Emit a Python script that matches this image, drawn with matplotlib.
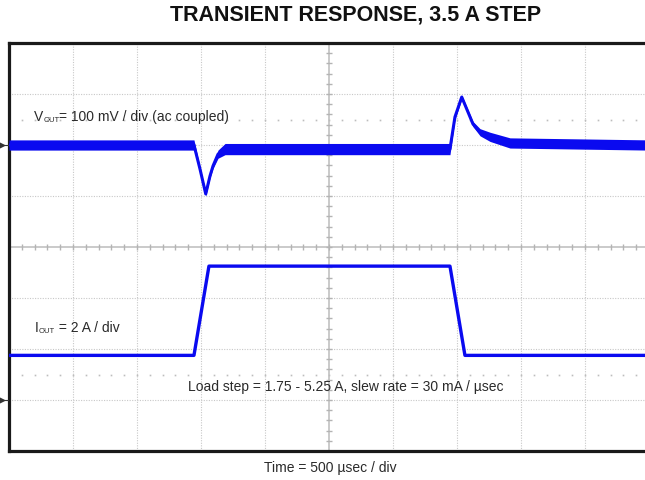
import numpy as np
import matplotlib
matplotlib.use("Agg")
import matplotlib.pyplot as plt

plt.rcParams['font.family'] = ['Liberation Sans', 'DejaVu Sans']

# scope settings
time_per_div = 500      # usec / div
vout_per_div = 100      # mV / div
iout_per_div = 2        # A / div
vout_offset = 2.0       # channel 1 ground position (div)
iout_offset = -3.0      # channel 2 ground position (div)

# channel 1: output voltage (ac coupled), mV, with noise band half-width
vout_t = [0, 1445, 1492, 1537, 1570, 1594, 1633, 1688, 3445, 3484, 3537, 3625, 3680, 3758, 3914, 5000]
vout_mv = [0, 0, -47, -96, -61, -41, -18, -8, -8, 55, 94, 41, 25, 16, 4, 0]
vout_noise = [10, 10, 4, 4, 4, 5, 8, 11, 11, 5, 4, 5, 7, 9, 10, 10]

# channel 2: load current, A
iout_t = [0, 1445, 1562, 3445, 3562, 5000]
iout_a = [1.75, 1.75, 5.25, 5.25, 1.75, 1.75]

title = "TRANSIENT RESPONSE, 3.5 A STEP"
load_text = "Load step = 1.75 - 5.25 A, slew rate = 30 mA / \u00b5sec"
time_text = "Time = 500 \u00b5sec / div"

blue = '#0a0af0'
grey = '#c8c8c8'
txt = '#2a2a2a'

fig = plt.figure(figsize=(6.45, 4.8), dpi=100)
ax = fig.add_axes([9 / 645, 29 / 480, 640 / 645, 408 / 480])
ax.set_xlim(0, 10 * time_per_div)
ax.set_ylim(-4, 4)
ax.set_xticks([])
ax.set_yticks([])
for s in ax.spines.values():
    s.set_linewidth(2.3)
    s.set_color('#1a1a1a')

# graticule
for k in range(1, 10):
    if k != 5:
        ax.axvline(k * time_per_div, color=grey, lw=0.8, ls=(0, (1, 1.3)), zorder=0)
for k in range(-3, 4):
    if k != 0:
        ax.axhline(k, color=grey, lw=0.8, ls=(0, (1, 1.3)), zorder=0)
ax.axvline(5 * time_per_div, color='#bcbcbc', lw=1.1, zorder=0)
ax.axhline(0, color='#bcbcbc', lw=1.1, zorder=0)

minor_x = np.arange(0, 10 * time_per_div + 1, time_per_div / 5)
minor_y = np.arange(-4, 4.01, 0.2)
ax.vlines(minor_x, -0.05, 0.05, color='#b4b4b4', lw=1.0, zorder=0)
ax.hlines(minor_y, 5 * time_per_div - 20, 5 * time_per_div + 20, color='#b4b4b4', lw=1.0, zorder=0)
for yr in (2.5, -2.5):
    ax.plot(minor_x, np.full_like(minor_x, yr), ls='none', marker='s', ms=1.2,
            mew=0, color='#bdbdbd', zorder=0)

# traces
vt = np.array(vout_t)
vd = np.array(vout_mv) / vout_per_div + vout_offset
vn = np.array(vout_noise) / vout_per_div
ax.fill_between(vt, vd - vn, vd + vn, color=blue, lw=0, zorder=3)
ax.plot(vt, vd, color=blue, lw=2.2, zorder=3)

idiv = np.array(iout_a) / iout_per_div + iout_offset
ax.plot(iout_t, idiv, color=blue, lw=2.4, zorder=3)

# ground markers at the left edge
for g in (vout_offset, iout_offset):
    ax.plot([-60], [g], marker='>', ms=4, color='#333333', clip_on=False, zorder=5)
    ax.plot([-60, -5], [g, g], color='#333333', lw=0.8, clip_on=False, zorder=5)

# labels
fs = 10
t1 = ax.text(195, 2.47, "V", fontsize=fs, color=txt, va='baseline', zorder=6)
t2 = ax.annotate("OUT", xy=(1, 0), xycoords=t1, fontsize=5.5, color=txt, va='bottom')
ax.annotate("= 100 mV / div (ac coupled)", xy=(1, 0), xycoords=(t2, t1),
            fontsize=fs, color=txt, va='bottom')

t4 = ax.text(203, -1.67, "I", fontsize=fs, color=txt, va='baseline', zorder=6)
t5 = ax.annotate("OUT", xy=(1, 0), xycoords=t4, fontsize=5.5, color=txt, va='bottom')
ax.annotate(" = 2 A / div", xy=(1, 0), xycoords=(t5, t4),
            fontsize=fs, color=txt, va='bottom')

ax.text(1398, -2.82, load_text, fontsize=fs, color=txt, va='baseline')
ax.text(2508, -4.33, time_text, fontsize=10, color=txt, ha='center', va='center', clip_on=False)

fig.text(356 / 645, 1 - 15 / 480, title, fontsize=15.5, fontweight='bold',
         ha='center', va='center', color='#111111')

fig.savefig("out.png", dpi=100)
